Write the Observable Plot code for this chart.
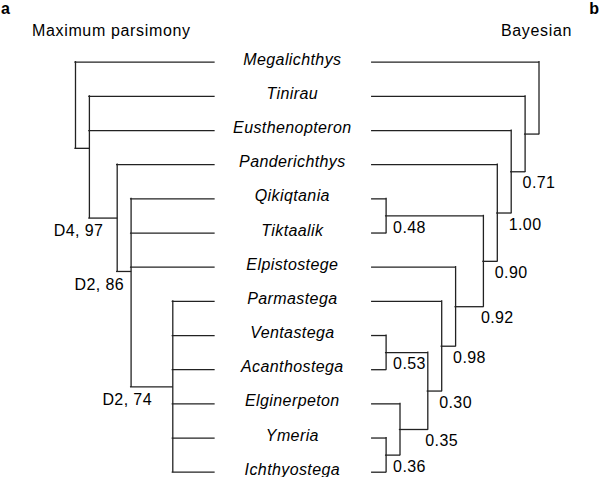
<!DOCTYPE html>
<html>
<head>
<meta charset="utf-8">
<script src="https://cdn.jsdelivr.net/npm/d3@7"></script>
<script src="https://cdn.jsdelivr.net/npm/@observablehq/plot@0.6"></script>
<style>
  body { margin: 0; background: #fff; }
  #wrap { position: relative; width: 600px; font-family: "Liberation Sans", Arial, Helvetica, sans-serif; color: #000; }
  #head { position: relative; height: 45px; }
  #head span { position: absolute; white-space: nowrap; }
  .panel { font-weight: bold; font-size: 16px; line-height: normal; top: 0; }
  .method { font-size: 16px; line-height: 16px; top: 22.5px; letter-spacing: 0.65px; }
  #chart svg { overflow: visible; display: block; }
</style>
</head>
<body>
<div id="wrap">
  <div id="head"></div>
  <div id="chart"></div>
</div>
<script>
// ---- data ----
const panelLetters = ["a", "b"];
const methodTitles = ["Maximum parsimony", "Bayesian"];

const taxa = ["Megalichthys", "Tinirau", "Eusthenopteron", "Panderichthys", "Qikiqtania",
  "Tiktaalik", "Elpistostege", "Parmastega", "Ventastega", "Acanthostega",
  "Elginerpeton", "Ymeria", "Ichthyostega"];

// Maximum parsimony tree (strict consensus, with polytomies)
const parsimonyTree = ["Megalichthys",
  ["Tinirau", "Eusthenopteron",
    ["Panderichthys",
      ["Qikiqtania", "Tiktaalik", "Elpistostege",
        ["Parmastega", "Ventastega", "Acanthostega", "Elginerpeton", "Ymeria", "Ichthyostega"]]]]];
// internal nodes in preorder: node rank (distance from tips) and support label
const parsimonyRanks = [10, 9, 7, 6, 3];
const parsimonySupport = [null, null, "D4, 97", "D2, 86", "D2, 74"];

// Bayesian tree (fully resolved)
const bayesTree = ["Megalichthys",
  ["Tinirau",
    ["Eusthenopteron",
      ["Panderichthys",
        [["Qikiqtania", "Tiktaalik"],
          ["Elpistostege",
            ["Parmastega",
              [["Ventastega", "Acanthostega"],
                ["Elginerpeton", ["Ymeria", "Ichthyostega"]]]]]]]]]];
const bayesRanks = [12, 11, 10, 9, 8, 1, 6, 5, 4, 1, 2, 1];
const bayesSupport = [null, null, "0.71", "1.00", "0.90", "0.48", "0.92", "0.98", "0.30", "0.53", "0.35", "0.36"];

// ---- layout helpers ----
const UNIT = 13.9;          // px per rank step
const GAP = 5.673;          // half-width of the name column, in rank units
const CENTER_PX = 292.85;   // centre of the name column

function layout(tree, ranks, support, side) {
  let k = 0;
  const toX = r => side * (GAP + r);
  function walk(n) {
    if (typeof n === "string") return {leaf: true, rank: 0, y: taxa.indexOf(n)};
    const node = {leaf: false, rank: ranks[k], label: support[k]};
    k++;
    node.children = n.map(walk);
    node.y = d3.mean(node.children, c => c.y);
    return node;
  }
  const root = walk(tree);
  const h = [], v = [], labels = [];
  function emit(node, parent) {
    if (node.leaf) return;
    v.push({x: toX(node.rank), y1: d3.min(node.children, c => c.y), y2: d3.max(node.children, c => c.y)});
    for (const c of node.children) {
      h.push({x1: toX(node.rank), x2: toX(c.rank), y: c.y});
      emit(c, node);
    }
    if (node.label && parent) {
      const cherry = node.children.every(c => c.leaf);
      labels.push({
        text: node.label,
        y: node.y,
        cherry,
        xMid: toX((parent.rank + node.rank) / 2),
        xParent: toX(parent.rank),
        xSelf: toX(node.rank)
      });
    }
  }
  emit(root, null);
  return {h, v, labels, leafX: toX(0)};
}

const left = layout(parsimonyTree, parsimonyRanks, parsimonySupport, -1);
const right = layout(bayesTree, bayesRanks, bayesSupport, 1);
const nameX = (left.leafX + right.leafX) / 2;

// ---- header ----
const head = document.getElementById("head");
head.innerHTML =
  `<span class="panel" style="left:1px">${panelLetters[0]}</span>` +
  `<span class="method" style="left:32px">${methodTitles[0]}</span>` +
  `<span class="method" style="right:28px">${methodTitles[1]}</span>` +
  `<span class="panel" style="right:1px">${panelLetters[1]}</span>`;

// ---- plot ----
const lineStyle = {stroke: "#222", strokeWidth: 1.3, strokeLinecap: "square"};
const textStyle = {fontSize: 16, fill: "#000"};

const chart = Plot.plot({
  width: 600,
  height: 432,
  marginTop: 16.7,
  marginBottom: 5.3,
  marginLeft: 0,
  marginRight: 0,
  x: {domain: [-CENTER_PX / UNIT, (600 - CENTER_PX) / UNIT], axis: null},
  y: {domain: [0, taxa.length - 1], reverse: true, axis: null},
  style: {fontFamily: "'Liberation Sans', Arial, Helvetica, sans-serif", letterSpacing: "0.4px", background: "#fff", overflow: "visible"},
  marks: [
    Plot.ruleY(left.h, {x1: "x1", x2: "x2", y: "y", ...lineStyle}),
    Plot.ruleX(left.v, {x: "x", y1: "y1", y2: "y2", ...lineStyle}),
    Plot.ruleY(right.h, {x1: "x1", x2: "x2", y: "y", ...lineStyle}),
    Plot.ruleX(right.v, {x: "x", y1: "y1", y2: "y2", ...lineStyle}),
    Plot.text(taxa, {x: () => nameX, y: (d, i) => i, text: d => d, fontStyle: "italic", dx: -1, dy: -2.5, ...textStyle}),
    Plot.text(left.labels, {x: "xMid", y: "y", text: "text", textAnchor: "end", dy: 13.2, ...textStyle}),
    Plot.text(right.labels.filter(d => !d.cherry), {x: "xParent", y: "y", text: "text", textAnchor: "start", dx: -2.5, dy: 11.6, ...textStyle}),
    Plot.text(right.labels.filter(d => d.cherry), {x: "xSelf", y: "y", text: "text", textAnchor: "start", dx: 7, dy: 11.6, ...textStyle})
  ]
});
document.getElementById("chart").appendChild(chart);
</script>
</body>
</html>
